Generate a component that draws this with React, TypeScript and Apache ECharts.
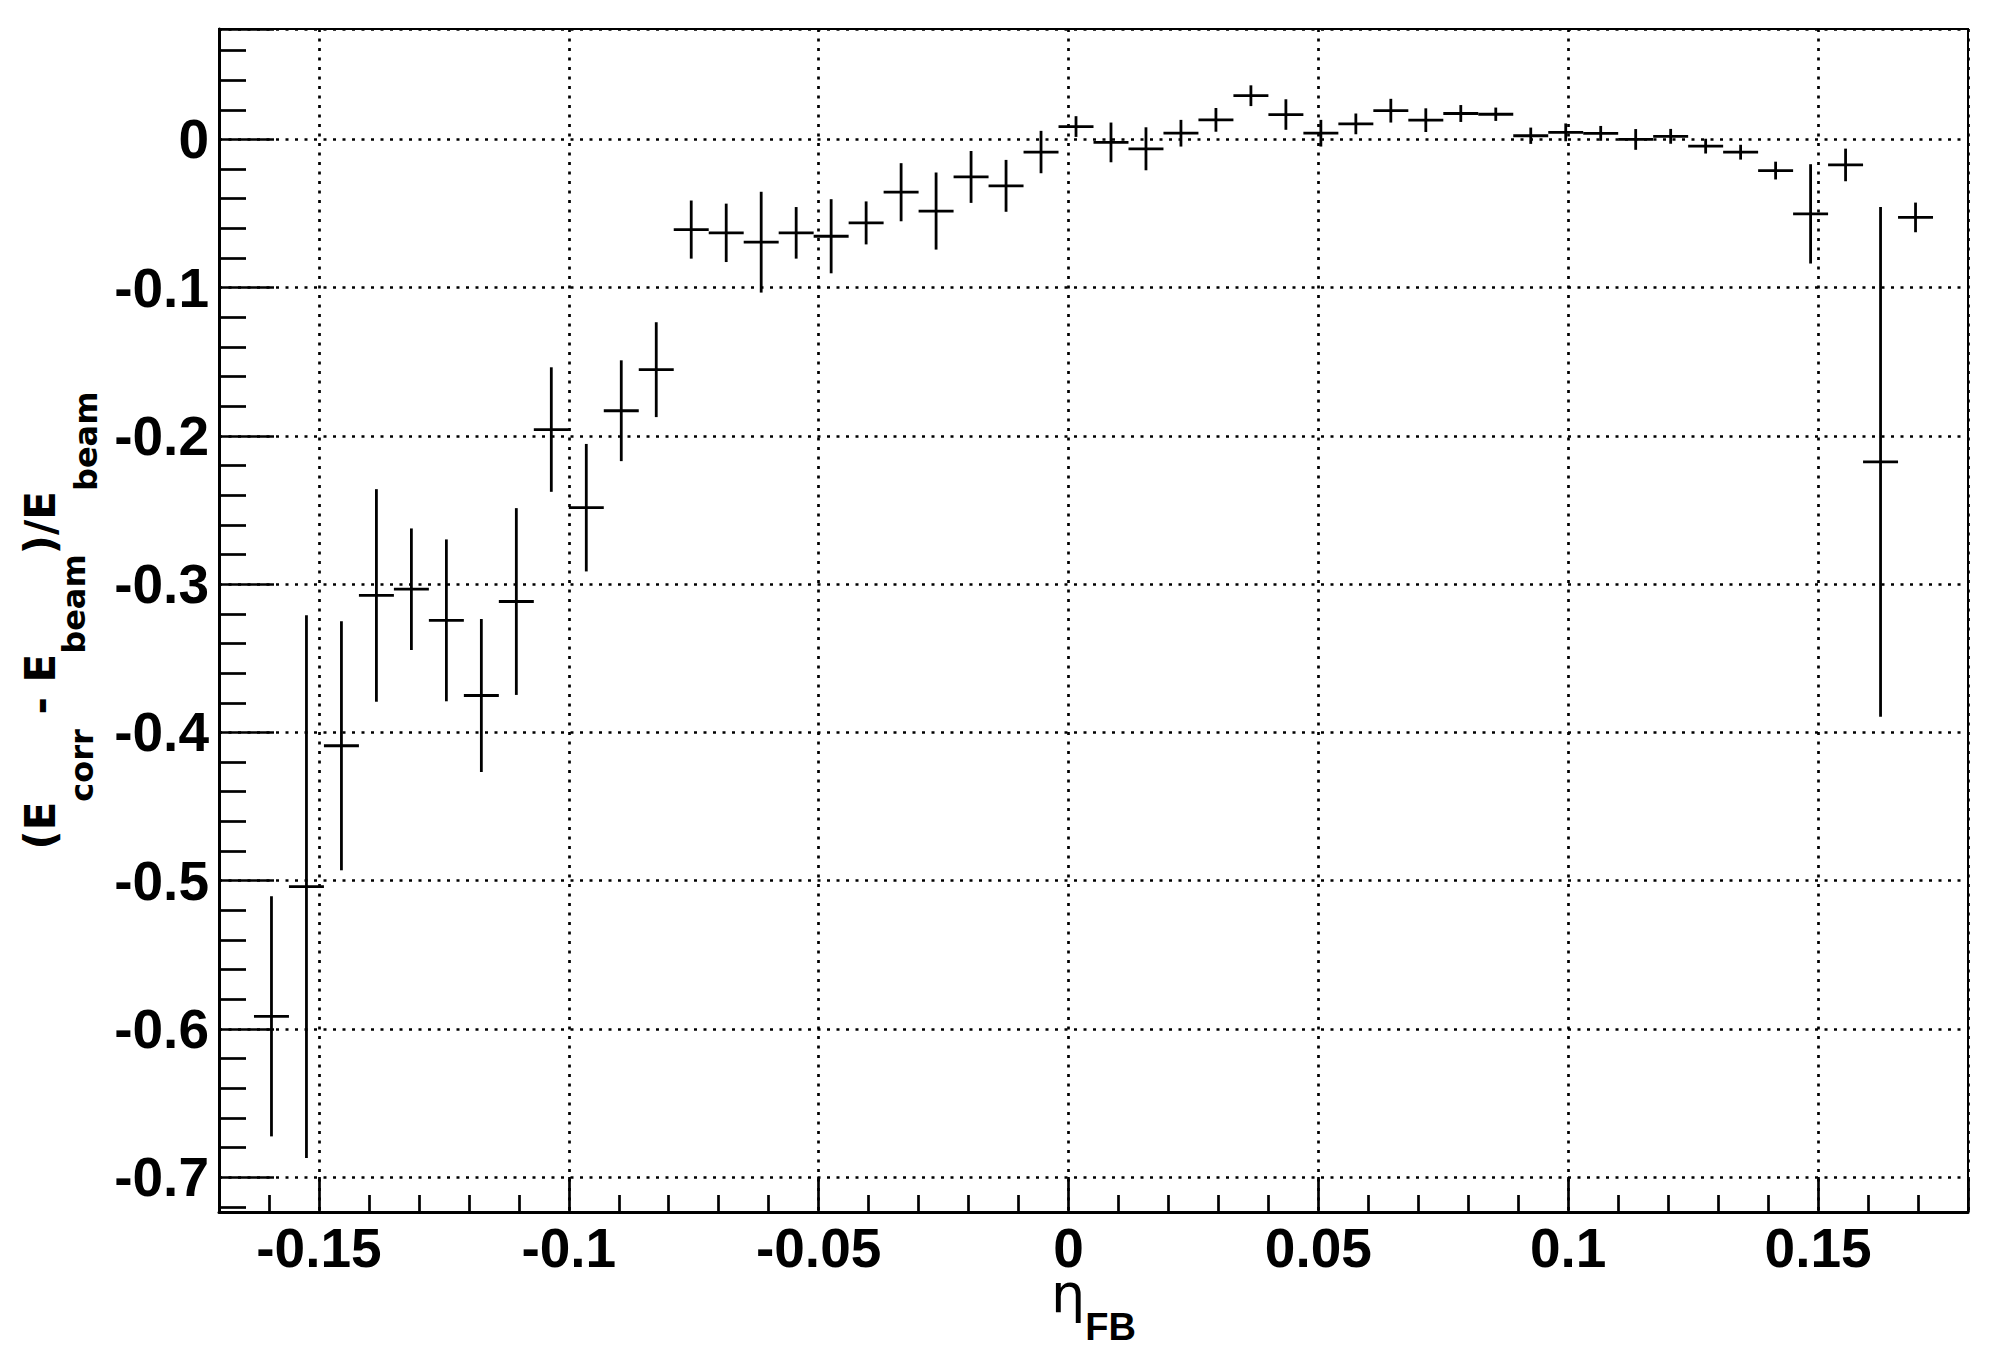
import React, { useEffect, useRef } from "react";
import * as echarts from "echarts";

// Profile histogram: 50 bins of width 0.007 on [-0.17, 0.18]; first and last bins empty.
const BIN_WIDTH = 0.007;
const X_MIN = -0.17;
const X_MAX = 0.18;
const Y_MIN = -0.7235;
const Y_MAX = 0.0745;

const binCenters = [
  -0.1595, -0.1525, -0.1455, -0.1385, -0.1315, -0.1245, -0.1175, -0.1105,
  -0.1035, -0.0965, -0.0895, -0.0825, -0.0755, -0.0685, -0.0615, -0.0545,
  -0.0475, -0.0405, -0.0335, -0.0265, -0.0195, -0.0125, -0.0055, 0.0015,
  0.0085, 0.0155, 0.0225, 0.0295, 0.0365, 0.0435, 0.0505, 0.0575,
  0.0645, 0.0715, 0.0785, 0.0855, 0.0925, 0.0995, 0.1065, 0.1135,
  0.1205, 0.1275, 0.1345, 0.1415, 0.1485, 0.1555, 0.1625, 0.1695,
];

const values = [
  -0.5915, -0.504, -0.409, -0.3076, -0.3034, -0.3244, -0.3751, -0.3117,
  -0.1957, -0.2484, -0.183, -0.1553, -0.0608, -0.063, -0.0693, -0.063,
  -0.0653, -0.0563, -0.0356, -0.0483, -0.0253, -0.0313, -0.0085, 0.0087,
  -0.002, -0.0063, 0.0042, 0.0132, 0.0295, 0.0168, 0.0042, 0.0105,
  0.0194, 0.013, 0.0175, 0.017, 0.0025, 0.0048, 0.0041, 0.0,
  0.0021, -0.0045, -0.0086, -0.021, -0.0502, -0.0172, -0.2175, -0.0526,
];

const errors = [
  0.081, 0.183, 0.084, 0.0717, 0.041, 0.0546, 0.0516, 0.063,
  0.042, 0.043, 0.034, 0.032, 0.0196, 0.0197, 0.034, 0.0174,
  0.025, 0.0145, 0.0196, 0.026, 0.0175, 0.0175, 0.0143, 0.007,
  0.0134, 0.0145, 0.009, 0.008, 0.007, 0.0103, 0.009, 0.007,
  0.008, 0.008, 0.0057, 0.0045, 0.0055, 0.006, 0.005, 0.007,
  0.005, 0.005, 0.005, 0.006, 0.0335, 0.011, 0.172, 0.01,
];

const X_TITLE = "{eta|η}{fb|FB}";
const Y_TITLE = "{m|(E}{c|corr}{m| - E}{b1|beam}{m|)/E}{b2|beam}";

const fmt = (v: number) => String(Math.round(v * 1000) / 1000);

export default function App() {
  const ref = useRef<HTMLDivElement>(null);

  useEffect(() => {
    if (!ref.current) return;
    const chart = echarts.init(ref.current, null, { renderer: "svg" });

    const black = "#000";
    const labelStyle = {
      color: black,
      fontFamily: "Liberation Sans",
      fontWeight: "bold" as const,
      fontSize: 55,
      showMinLabel: false,
      showMaxLabel: false,
      formatter: fmt,
    };
    const gridLine = {
      show: true,
      lineStyle: { color: black, width: 2.7, type: [3, 6.5] as number[] },
    };
    const titleBold = { fontFamily: "DejaVu Sans", fontWeight: "bold" as const, color: black };

    const data = binCenters.map((c, i) => [c, values[i], errors[i]]);
    const half = BIN_WIDTH / 2;

    chart.setOption({
      animation: false,
      backgroundColor: "#fff",
      grid: {
        left: 219,
        top: 29,
        right: 22,
        bottom: 145,
        show: true,
        borderColor: black,
        borderWidth: 2,
        backgroundColor: "transparent",
        containLabel: false,
        outerBoundsMode: "none",
      },
      xAxis: {
        type: "value",
        min: X_MIN,
        max: X_MAX,
        splitNumber: 7,
        name: X_TITLE,
        nameLocation: "middle",
        nameGap: 61,
        nameMoveOverlap: false,
        nameTextStyle: {
          rich: {
            eta: { fontFamily: "DejaVu Sans", fontWeight: "normal", fontSize: 54, height: 40, color: black, verticalAlign: "top" },
            fb: { fontFamily: "Liberation Sans", fontWeight: "bold", fontSize: 38, color: black, verticalAlign: "top", padding: [35, 0, 0, 0] },
          },
        },
        axisLine: { show: true, onZero: false, lineStyle: { color: black, width: 3 } },
        axisTick: { show: true, inside: true, length: 35, lineStyle: { color: black, width: 2.7 } },
        minorTick: { show: true, splitNumber: 5, length: 17, lineStyle: { color: black, width: 2.7 } },
        axisLabel: { ...labelStyle, lineHeight: 48, margin: 12 },
        splitLine: gridLine,
        minorSplitLine: { show: false },
      },
      yAxis: {
        type: "value",
        min: Y_MIN,
        max: Y_MAX,
        splitNumber: 8,
        name: Y_TITLE,
        nameLocation: "middle",
        nameGap: 117,
        nameMoveOverlap: false,
        nameTextStyle: {
          rich: {
            m: { ...titleBold, fontSize: 42, verticalAlign: "top" },
            c: { ...titleBold, fontSize: 32, verticalAlign: "top", padding: [47, 0, 0, 0] },
            b1: { ...titleBold, fontSize: 32, verticalAlign: "top", padding: [39, 0, 0, 0] },
            b2: { ...titleBold, fontSize: 32, verticalAlign: "top", padding: [51, 0, 0, 0] },
          },
        },
        axisLine: { show: true, onZero: false, lineStyle: { color: black, width: 3 } },
        axisTick: { show: true, inside: true, length: 55, lineStyle: { color: black, width: 2.7 } },
        minorTick: { show: true, splitNumber: 5, length: 27, lineStyle: { color: black, width: 2.7 } },
        axisLabel: { ...labelStyle, margin: 10 },
        splitLine: gridLine,
        minorSplitLine: { show: false },
      },
      series: [
        {
          type: "custom",
          data,
          encode: { x: 0, y: 1 },
          clip: true,
          silent: true,
          z: 5,
          renderItem: (_params: any, api: any) => {
            const x = api.value(0);
            const y = api.value(1);
            const e = api.value(2);
            const l = api.coord([x - half, y]);
            const r = api.coord([x + half, y]);
            const t = api.coord([x, y + e]);
            const b = api.coord([x, y - e]);
            const style = { stroke: black, lineWidth: 2.8 };
            return {
              type: "group",
              children: [
                { type: "line", shape: { x1: l[0], y1: l[1], x2: r[0], y2: r[1] }, style },
                { type: "line", shape: { x1: t[0], y1: t[1], x2: b[0], y2: b[1] }, style },
              ],
            };
          },
        },
      ],
    });

    return () => chart.dispose();
  }, []);

  return (
    <div
      ref={ref}
      style={{ position: "absolute", left: 0, top: 0, width: 1990, height: 1357, background: "#fff" }}
    />
  );
}
